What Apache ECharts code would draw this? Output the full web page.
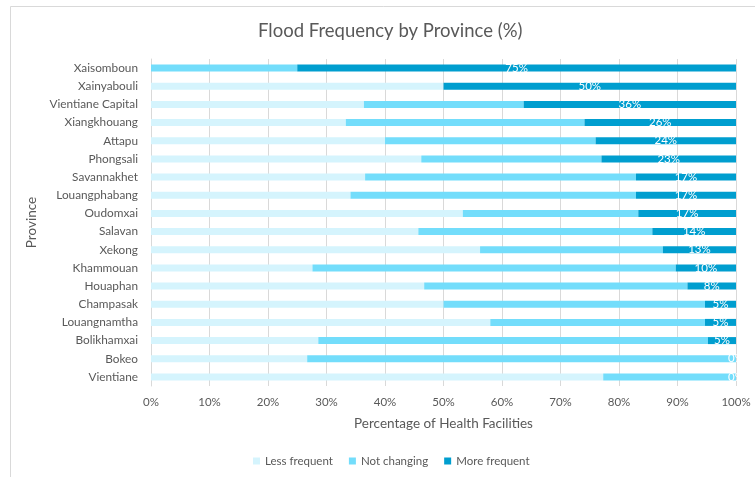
<!DOCTYPE html>
<html>
<head>
<meta charset="utf-8">
<script src="https://cdn.jsdelivr.net/npm/echarts@6/dist/echarts.min.js"></script>
<style>html,body{margin:0;padding:0;background:#fff;}#c{width:755px;height:477px;}</style>
</head>
<body>
<div id="c"></div>
<script>
const provinces = ["Xaisomboun","Xainyabouli","Vientiane Capital","Xiangkhouang","Attapu","Phongsali","Savannakhet","Louangphabang","Oudomxai","Salavan","Xekong","Khammouan","Houaphan","Champasak","Louangnamtha","Bolikhamxai","Bokeo","Vientiane"];
const lessFrequent = [0,50,36.4,33.3,40,46.2,36.6,34.1,53.3,45.7,56.25,27.6,46.7,50,58,28.6,26.7,77.3];
const notChanging = [25,0,27.3,40.8,36,30.8,46.3,48.8,30,40,31.25,62.1,45,44.7,36.7,66.6,73.3,22.7];
const moreFrequent = [75,50,36.4,25.9,24,23.1,17.1,17.1,16.7,14.3,12.5,10.3,8.3,5.3,5.3,4.8,0,0];
const xTicks = [0,10,20,30,40,50,60,70,80,90,100];

const FONT = "Lato";
const chart = echarts.init(document.getElementById('c'));
const barW = 7;
chart.setOption({
  animation:false,
  textStyle:{fontFamily:FONT},
  graphic:[{type:'rect',shape:{x:10.5,y:6.5,width:760,height:480},style:{fill:null,stroke:'#d9d9d9',lineWidth:1},silent:true}],
  title:{text:'Flood Frequency by Province (%)',left:253,top:17,textStyle:{fontFamily:FONT,fontSize:18.5,fontWeight:'normal',color:'#595959'}},
  legend:{left:248,bottom:5,itemWidth:7,itemHeight:7,itemGap:16,icon:'rect',textStyle:{fontFamily:FONT,fontSize:11.5,color:'#595959'},data:['Less frequent','Not changing','More frequent']},
  grid:{left:151,right:19,top:59,bottom:91},
  xAxis:{type:'value',min:xTicks[0],max:xTicks[xTicks.length-1],interval:10,
    axisLabel:{formatter:'{value}%',color:'#595959',fontSize:11.5,margin:10,fontFamily:FONT},
    axisLine:{show:false},axisTick:{show:false},
    splitLine:{show:true,lineStyle:{color:'#d9d9d9',width:1}},
    name:'Percentage of Health Facilities',nameLocation:'middle',nameGap:31,
    nameTextStyle:{color:'#595959',fontSize:13.5,fontFamily:FONT}},
  yAxis:{type:'category',data:provinces,inverse:true,
    axisLabel:{color:'#595959',fontSize:11.8,margin:13,fontFamily:FONT},
    axisLine:{show:true,lineStyle:{color:'#d9d9d9'}},axisTick:{show:false},
    name:'Province',nameLocation:'middle',nameGap:107,nameRotate:90,
    nameTextStyle:{color:'#595959',fontSize:13.5,fontFamily:FONT}},
  series:[
    {name:'Less frequent',type:'bar',stack:'a',barWidth:barW,data:lessFrequent,itemStyle:{color:'#d5f4fd'}},
    {name:'Not changing',type:'bar',stack:'a',barWidth:barW,data:notChanging,itemStyle:{color:'#73ddfb'}},
    {name:'More frequent',type:'bar',stack:'a',barWidth:barW,data:moreFrequent,itemStyle:{color:'#009ecf'},
      label:{show:true,position:'inside',color:'#ffffff',fontSize:11.5,fontFamily:FONT,
        formatter:p=>Math.round(p.value)+'%'}}
  ]
});
</script>
</body>
</html>
